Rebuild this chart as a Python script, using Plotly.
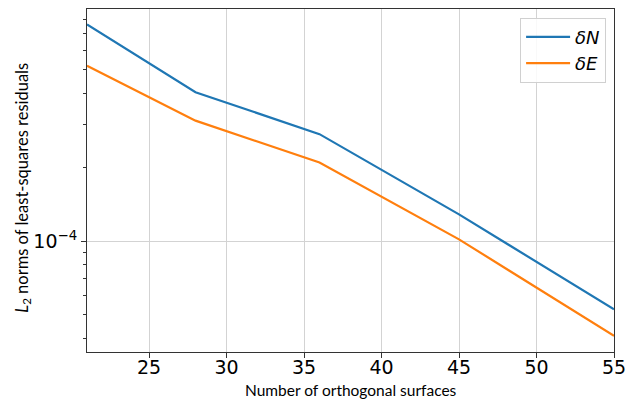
import plotly.graph_objects as go

surfaces = [21, 28, 36, 45, 55]
delta_n = [7.66e-4, 4.05e-4, 2.73e-4, 1.285e-4, 5.26e-5]
delta_e = [5.19e-4, 3.10e-4, 2.09e-4, 1.016e-4, 4.10e-5]
x_ticks = [25, 30, 35, 40, 45, 50, 55]
y_major = [1e-4]
y_major_text = ["10<sup>−4</sup>"]
y_minor = [4e-5, 5e-5, 6e-5, 7e-5, 8e-5, 9e-5, 2e-4, 3e-4, 4e-4, 5e-4, 6e-4, 7e-4, 8e-4]
x_title = "Number of orthogonal surfaces"
y_title = "<i>L</i><sub>2</sub> norms of least-squares residuals"

fig = go.Figure()
fig.add_trace(go.Scatter(x=surfaces, y=delta_n, mode="lines", name="<i>δN</i>",
                         line=dict(color="#1f77b4", width=2.2)))
fig.add_trace(go.Scatter(x=surfaces, y=delta_e, mode="lines", name="<i>δE</i>",
                         line=dict(color="#ff7f0e", width=2.2)))

fig.update_layout(
    width=627, height=401,
    margin=dict(l=87, r=13, t=9, b=49),
    plot_bgcolor="white", paper_bgcolor="white",
    font=dict(family="Lato", color="black"),
    showlegend=True,
    legend=dict(x=0.985, y=0.975, xanchor="right", yanchor="top",
                bgcolor="rgba(255,255,255,0.85)", bordercolor="#d0d0d0", borderwidth=1,
                font=dict(size=18, family="DejaVu Sans"), itemwidth=44,
                tracegroupgap=4),
    xaxis=dict(range=[21, 55], tickvals=x_ticks, showgrid=True, gridcolor="#d3d3d3",
               gridwidth=1, showline=True, linecolor="#333", linewidth=1.2, mirror=True,
               ticks="outside", ticklen=5, tickcolor="#333", automargin=False,
               ticklabelstandoff=-7,
               tickfont=dict(size=19, family="DejaVu Sans"), zeroline=False),
    yaxis=dict(type="log", range=[-4.453, -3.053], tickvals=y_major, ticktext=y_major_text,
               showgrid=True, gridcolor="#d3d3d3", gridwidth=1, automargin=False,
               showline=True, linecolor="#333", linewidth=1.2, mirror=True,
               ticks="outside", ticklen=5, tickcolor="#333",
               tickfont=dict(size=19, family="DejaVu Sans"), zeroline=False,
               minor=dict(tickvals=y_minor, ticks="outside", ticklen=3, tickcolor="#333",
                          showgrid=False)),
    annotations=[
        dict(text=x_title, xref="paper", yref="paper", x=0.5, y=-0.112,
             xanchor="center", yanchor="middle", showarrow=False,
             font=dict(size=15.5, family="Lato")),
        dict(text=y_title, xref="paper", yref="paper", x=-0.124, y=0.478,
             xanchor="center", yanchor="middle", showarrow=False, textangle=-90,
             font=dict(size=16.5, family="Lato")),
    ],
)

fig.write_html("out.html")
